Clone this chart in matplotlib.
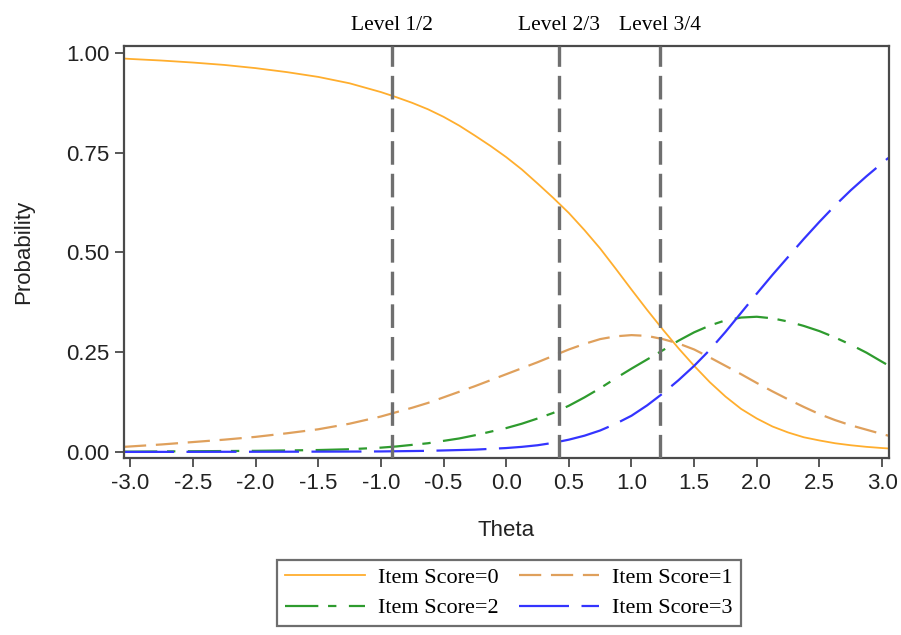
import matplotlib

matplotlib.use("Agg")
import matplotlib.pyplot as plt
import matplotlib.transforms as mtransforms

# ---------------------------------------------------------------------------
# Data (finer steps where the curves bend)
# ---------------------------------------------------------------------------
theta = [-3.05, -3.0, -2.75, -2.5, -2.25, -2.0, -1.75, -1.5, -1.25,
         -1.0, -0.875, -0.75, -0.625, -0.5, -0.375, -0.25, -0.125,
         0.0, 0.125, 0.25, 0.375, 0.5, 0.625, 0.75, 0.875,
         1.0, 1.125, 1.25, 1.375, 1.5, 1.625, 1.75, 1.875,
         2.0, 2.125, 2.25, 2.375, 2.5, 2.625, 2.75, 2.875,
         3.0, 3.05]

score0 = [0.986, 0.985, 0.981, 0.976, 0.970, 0.962, 0.952, 0.940, 0.924,
          0.902, 0.889, 0.875, 0.859, 0.840, 0.818, 0.793, 0.767,
          0.739, 0.708, 0.673, 0.637, 0.599, 0.556, 0.510, 0.459,
          0.407, 0.356, 0.307, 0.260, 0.216, 0.175, 0.139, 0.108,
          0.084, 0.064, 0.049, 0.037, 0.029, 0.022, 0.017, 0.013,
          0.010, 0.009]
score1 = [0.013, 0.014, 0.019, 0.025, 0.031, 0.038, 0.047, 0.057, 0.071,
          0.089, 0.100, 0.111, 0.123, 0.137, 0.151, 0.165, 0.180,
          0.195, 0.210, 0.225, 0.241, 0.257, 0.271, 0.283, 0.290,
          0.293, 0.291, 0.283, 0.272, 0.257, 0.237, 0.216, 0.195,
          0.173, 0.152, 0.132, 0.113, 0.095, 0.080, 0.067, 0.056,
          0.045, 0.041]
score2 = [0.001, 0.001, 0.0015, 0.002, 0.0025, 0.003, 0.004, 0.005, 0.007,
          0.011, 0.014, 0.018, 0.022, 0.028, 0.034, 0.042, 0.051,
          0.060, 0.071, 0.084, 0.098, 0.116, 0.137, 0.160, 0.185,
          0.209, 0.232, 0.255, 0.279, 0.300, 0.317, 0.330, 0.337,
          0.339, 0.335, 0.327, 0.316, 0.303, 0.287, 0.269, 0.249,
          0.226, 0.217]
score3 = [0.0003, 0.0003, 0.0004, 0.0005, 0.0006, 0.0007, 0.0008, 0.001, 0.0012,
          0.0015, 0.002, 0.0025, 0.003, 0.004, 0.005, 0.006, 0.008,
          0.010, 0.013, 0.017, 0.023, 0.031, 0.041, 0.054, 0.071,
          0.091, 0.117, 0.147, 0.180, 0.216, 0.256, 0.301, 0.349,
          0.397, 0.444, 0.489, 0.534, 0.577, 0.618, 0.656, 0.691,
          0.724, 0.737]

series_labels = ["Item Score=0", "Item Score=1", "Item Score=2", "Item Score=3"]

cut_points = [-0.91, 0.42, 1.23]
cut_labels = ["Level 1/2", "Level 2/3", "Level 3/4"]

x_ticks = [-3.0, -2.5, -2.0, -1.5, -1.0, -0.5, 0.0, 0.5, 1.0, 1.5, 2.0, 2.5, 3.0]
y_ticks = [0.0, 0.25, 0.5, 0.75, 1.0]

# ---------------------------------------------------------------------------
# Style
# ---------------------------------------------------------------------------
plt.rcParams["lines.scale_dashes"] = False
SANS = ["Liberation Sans", "DejaVu Sans"]
SERIF = ["Liberation Serif", "DejaVu Serif"]
FRAME = "#4a4a4a"
TEXT = "#222222"

styles = [
    dict(color="#FFAE2E", lw=1.3, ls="-"),
    dict(color="#DFA05C", lw=1.6, dashes=(16, 7)),
    dict(color="#2E9B2E", lw=1.6, dashes=(24, 7, 6, 9)),
    dict(color="#3434FF", lw=1.6, dashes=(36, 9)),
]

fig = plt.figure(figsize=(9.01, 6.35), dpi=100)
ax = fig.add_axes([0.1376, 0.2787, 0.8491, 0.6489])

handles = []
for ys, lab, st in zip([score0, score1, score2, score3], series_labels, styles):
    (h,) = ax.plot(theta, ys, label=lab, **st)
    handles.append(h)

# cut-point reference lines, labelled above the frame
trans = mtransforms.blended_transform_factory(ax.transData, ax.transAxes)
for xc, lab in zip(cut_points, cut_labels):
    ax.axvline(xc, color="#6f6f6f", lw=2.4, dashes=(17, 6.5), zorder=3)
    ax.text(xc, 1.05, lab, transform=trans, ha="center", va="center",
            fontsize=15.5, family=SERIF, color="black")

ax.set_xlim(-3.05, 3.055)
ax.set_ylim(-0.015, 1.0175)
ax.set_xticks(x_ticks)
ax.set_xticklabels([f"{v:.1f}" for v in x_ticks])
ax.set_yticks(y_ticks)
ax.set_yticklabels([f"{v:.2f}" for v in y_ticks])

for side in ["left", "right", "top", "bottom"]:
    ax.spines[side].set_color(FRAME)
    ax.spines[side].set_linewidth(1.6)

ax.tick_params(axis="both", direction="out", length=6.5, width=1.3, color=FRAME,
               labelsize=16, labelcolor=TEXT, pad=4)
for lbl in ax.get_xticklabels() + ax.get_yticklabels():
    lbl.set_family(SANS)

ax.set_xlabel("Theta", fontsize=16, family=SANS, color=TEXT, labelpad=19)
ax.set_ylabel("Probability", fontsize=16, family=SANS, color=TEXT, labelpad=23)

# legend: row 1 = score 0, 1 ; row 2 = score 2, 3
order = [0, 2, 1, 3]
leg = fig.legend([handles[i] for i in order], [series_labels[i] for i in order],
                 loc="center", bbox_to_anchor=(0.565, 0.0661), ncol=2,
                 prop={"family": SERIF, "size": 16}, frameon=True, fancybox=False,
                 handlelength=3.6, handletextpad=0.6, columnspacing=0.9,
                 labelspacing=0.44, borderpad=0.35, borderaxespad=0)
leg.get_frame().set_edgecolor(FRAME)
leg.get_frame().set_linewidth(1.6)

fig.savefig("out.png", dpi=100)
